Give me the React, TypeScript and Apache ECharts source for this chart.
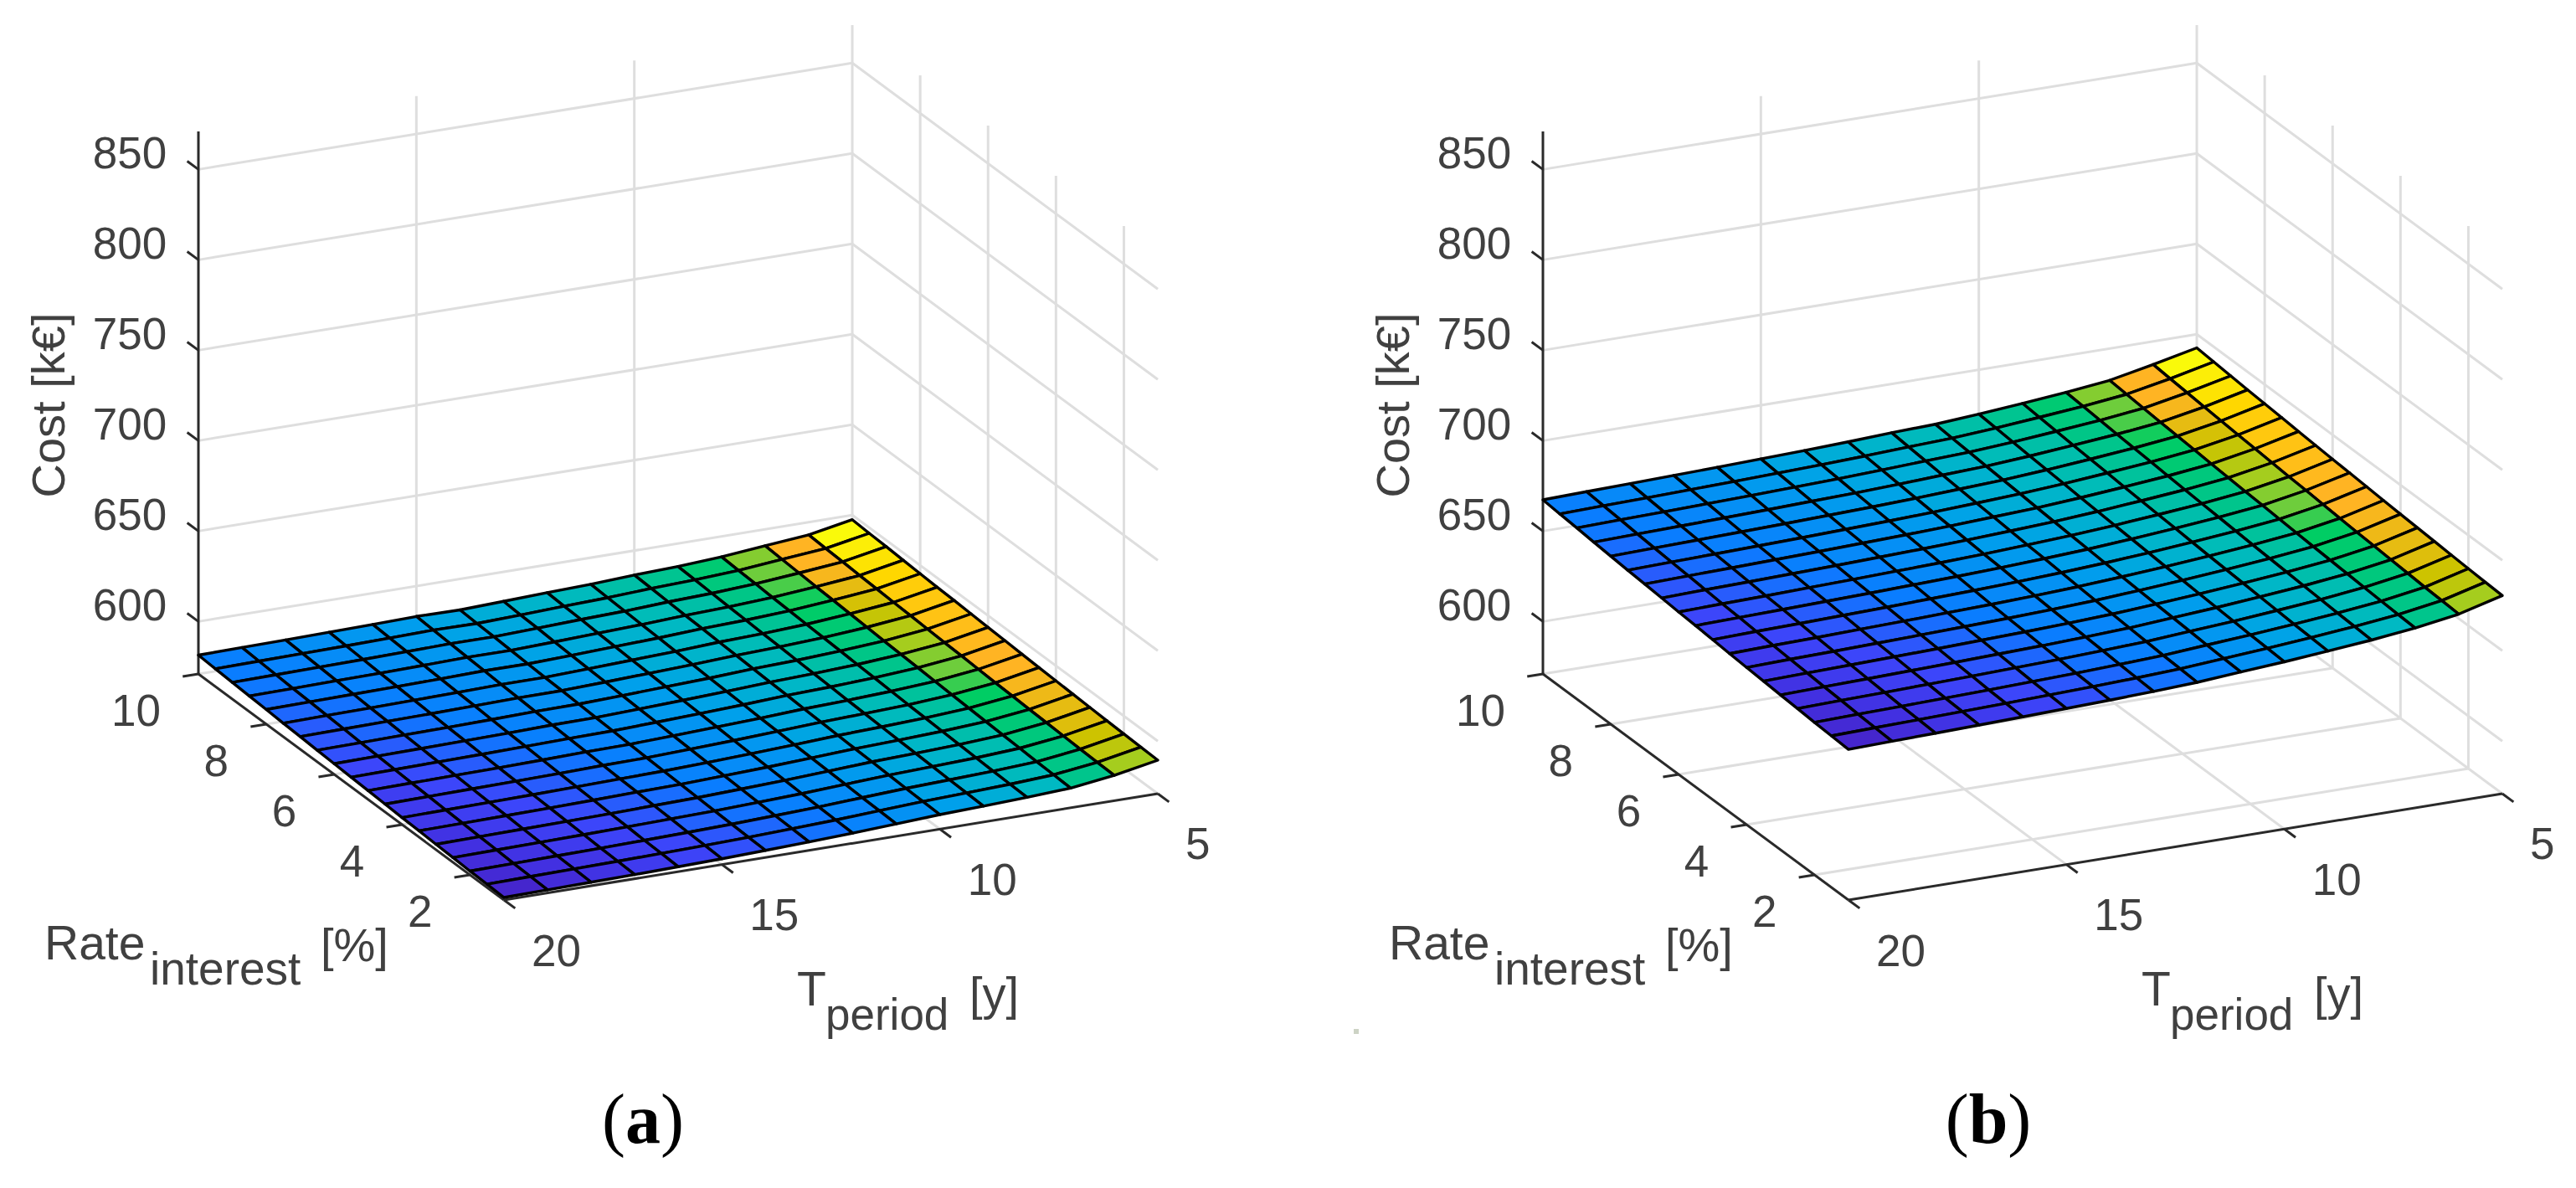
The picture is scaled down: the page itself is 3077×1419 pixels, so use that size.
import React, { useEffect, useRef } from "react";
import * as echarts from "echarts";

const PERIODS = [5, 6, 7, 8, 9, 10, 11, 12, 13, 14, 15, 16, 17, 18, 19, 20];
const RATES = [1, 1.5, 2, 2.5, 3, 3.5, 4, 4.5, 5, 5.5, 6, 6.5, 7, 7.5, 8, 8.5, 9, 9.5, 10];
const COST_TICKS = [600, 650, 700, 750, 800, 850];
const RATE_TICKS = [2, 4, 6, 8, 10];
const PERIOD_TICKS = [5, 10, 15, 20];

// Rows follow PERIODS, columns follow RATES.
const COST_A = [
  [589.5,589.8,590.1,590.5,590.9,591.3,591.7,592.1,592.6,593.1,593.5,594,594.5,594.9,595.4,595.9,596.5,596.9,597.5],
  [585,585.3,585.6,586,586.4,586.8,587.2,587.6,588.1,588.6,589,589.5,590,590.4,590.9,591.4,592,592.4,593],
  [581.9,582.3,582.6,583.1,583.5,584,584.4,584.9,585.4,585.9,586.4,586.9,587.5,588,588.6,589.1,589.7,590.3,590.9],
  [580.7,581,581.3,581.7,582.1,582.5,582.9,583.3,583.8,584.3,584.7,585.2,585.7,586.1,586.6,587.1,587.7,588.1,588.7],
  [579.8,580.1,580.4,580.8,581.2,581.5,581.9,582.3,582.7,583.2,583.6,584,584.5,584.9,585.4,585.8,586.3,586.8,587.3],
  [579,579.3,579.6,580,580.4,580.7,581.1,581.5,581.9,582.4,582.8,583.2,583.7,584.1,584.6,585,585.5,586,586.5],
  [577.8,578.1,578.4,578.8,579.2,579.5,579.9,580.3,580.7,581.2,581.6,582,582.5,582.9,583.4,583.8,584.3,584.8,585.3],
  [576.6,576.9,577.2,577.6,578,578.4,578.8,579.2,579.7,580.2,580.6,581.1,581.6,582,582.5,583,583.6,584,584.6],
  [575.7,576,576.3,576.7,577.1,577.5,577.9,578.3,578.8,579.3,579.7,580.2,580.7,581.1,581.6,582.1,582.7,583.1,583.7],
  [574.9,575.2,575.5,575.9,576.3,576.7,577.1,577.5,578,578.5,578.9,579.4,579.9,580.3,580.8,581.3,581.9,582.3,582.9],
  [574.2,574.6,574.9,575.4,575.8,576.3,576.7,577.2,577.7,578.2,578.7,579.2,579.8,580.3,580.9,581.4,582,582.6,583.2],
  [573.7,574.1,574.4,574.9,575.3,575.8,576.2,576.7,577.2,577.7,578.2,578.7,579.3,579.8,580.4,580.9,581.5,582.1,582.7],
  [573.3,573.7,574,574.5,574.9,575.4,575.8,576.3,576.8,577.3,577.8,578.3,578.9,579.4,580,580.5,581.1,581.7,582.3],
  [573,573.4,573.7,574.2,574.6,575.1,575.5,576,576.5,577,577.5,578,578.6,579.1,579.7,580.2,580.8,581.4,582],
  [572.7,573.1,573.4,573.9,574.3,574.8,575.2,575.7,576.2,576.7,577.2,577.7,578.3,578.8,579.4,579.9,580.5,581.1,581.7],
  [572.4,572.8,573.1,573.6,574,574.5,574.9,575.4,575.9,576.4,576.9,577.4,578,578.5,579.1,579.6,580.2,580.8,581.4],
];

const COST_B = [
  [680.5,681,681.5,682.1,682.7,683.3,683.9,684.5,685.2,685.9,686.5,687.2,687.9,688.7,689.4,690.1,690.9,691.7,692.5],
  [674.2,674.7,675.2,675.9,676.5,677.2,677.8,678.5,679.3,680.1,680.7,681.5,682.3,683,683.8,684.6,685.5,686.3,687.2],
  [670.4,670.9,671.4,672,672.6,673.2,673.8,674.4,675.1,675.8,676.4,677.1,677.8,678.6,679.3,680,680.8,681.6,682.4],
  [667.7,668.2,668.7,669.3,669.9,670.5,671.1,671.7,672.4,673.1,673.7,674.4,675.1,675.9,676.6,677.3,678.1,678.9,679.7],
  [665.5,666,666.5,667.1,667.7,668.3,668.9,669.5,670.2,670.9,671.5,672.2,672.9,673.7,674.4,675.1,675.9,676.7,677.5],
  [663.5,664,664.5,665.1,665.7,666.3,666.9,667.5,668.2,668.9,669.5,670.2,670.9,671.7,672.4,673.1,673.9,674.7,675.5],
  [661.8,662.3,662.8,663.4,664,664.6,665.2,665.8,666.5,667.2,667.8,668.5,669.2,670,670.7,671.4,672.2,673,673.8],
  [660,660.5,661,661.7,662.3,663,663.6,664.3,665.1,665.9,666.5,667.3,668.1,668.8,669.6,670.4,671.3,672.1,673],
  [658.9,659.4,659.9,660.6,661.2,661.9,662.5,663.2,664,664.8,665.4,666.2,667,667.7,668.5,669.3,670.2,671,671.9],
  [658,658.5,659,659.7,660.3,661,661.6,662.3,663.1,663.9,664.5,665.3,666.1,666.8,667.6,668.4,669.3,670.1,671],
  [657.3,657.8,658.3,659,659.6,660.3,660.9,661.6,662.4,663.2,663.8,664.6,665.4,666.1,666.9,667.7,668.6,669.4,670.3],
  [656.6,657.1,657.6,658.3,658.9,659.6,660.2,660.9,661.7,662.5,663.1,663.9,664.7,665.4,666.2,667,667.9,668.7,669.6],
  [656,656.5,657,657.7,658.3,659,659.6,660.3,661.1,661.9,662.5,663.3,664.1,664.8,665.6,666.4,667.3,668.1,669],
  [655.4,655.9,656.4,657.1,657.7,658.4,659,659.7,660.5,661.3,661.9,662.7,663.5,664.2,665,665.8,666.7,667.5,668.4],
  [654.9,655.4,655.9,656.6,657.2,657.9,658.5,659.2,660,660.8,661.4,662.2,663,663.7,664.5,665.3,666.2,667,667.9],
  [654.3,654.8,655.3,656,656.6,657.3,657.9,658.6,659.4,660.2,660.8,661.6,662.4,663.1,663.9,664.7,665.6,666.4,667.3],
];

// Colour level of each mesh vertex (0 to 100).
const COLOR_LEVELS = [
  [79,82,84,86,87,88,89,90,90,91,92,93,94,95,97,98,99,100,100],
  [60,61,62,63,64,66,68,71,74,76,79,81,83,85,87,89,90,90,91],
  [50,51,52,53,54,55,56,57,58,60,61,63,65,67,69,72,74,76,77],
  [45,46,47,48,49,50,51,52,53,54,55,56,57,58,60,61,63,65,66],
  [40,41,42,43,44,45,46,47,48,49,50,51,52,53,54,55,57,59,60],
  [35,36,37,38,39,41,42,43,44,45,46,47,48,49,50,52,53,55,56],
  [30,31,33,34,35,36,37,39,40,41,42,43,45,46,47,48,50,51,52],
  [26,27,29,30,31,33,34,35,36,38,39,40,41,43,44,45,46,48,49],
  [23,24,26,27,28,30,31,32,33,35,36,37,38,40,41,42,43,45,46],
  [20,21,23,24,25,27,28,29,30,32,33,34,35,37,38,39,41,42,43],
  [17,18,20,21,22,24,25,26,28,29,30,32,33,34,35,37,38,39,41],
  [14,15,17,18,19,21,22,23,25,26,27,29,30,31,33,34,35,37,38],
  [11,12,14,15,17,18,19,21,22,23,25,26,27,29,30,31,33,34,35],
  [8,10,11,13,14,15,17,18,19,21,22,24,25,26,28,29,30,32,33],
  [5,7,8,10,11,13,14,15,17,18,20,21,22,24,25,27,28,29,30],
  [0,2,4,6,7,9,10,12,14,15,17,18,20,21,23,24,26,27,28],
];

const COLOR_STOPS: [number, number[]][] = [
  [0, [72, 28, 185]], [0.1, [66, 48, 225]], [0.18, [60, 70, 250]], [0.28, [10, 125, 255]],
  [0.4, [0, 160, 235]], [0.5, [0, 185, 195]], [0.58, [0, 195, 150]], [0.68, [0, 205, 100]],
  [0.74, [110, 205, 60]], [0.79, [165, 205, 30]], [0.84, [205, 195, 0]], [0.9, [255, 180, 35]],
  [0.97, [255, 215, 0]], [1, [250, 250, 10]],
];

const Z_MIN = 571;
const Z_MAX = 871;
const T_MIN = 5;
const T_MAX = 20;
const R_MIN = 1;
const R_MAX = 10;
const FONT = '"Liberation Sans", Arial, sans-serif';
const TEXT_COLOR = "#404040";

function colorOf(t: number) {
  for (let i = 1; i < COLOR_STOPS.length; i++) {
    const [a, ca] = COLOR_STOPS[i - 1];
    const [b, cb] = COLOR_STOPS[i];
    if (t <= b) {
      const f = (t - a) / (b - a);
      const c = ca.map((v, k) => Math.round(v + (cb[k] - v) * f));
      return `rgb(${c[0]},${c[1]},${c[2]})`;
    }
  }
  return "rgb(250,250,10)";
}

function project(ox: number, T: number, R: number, z: number): [number, number] {
  const dT = T_MAX - T;
  const dR = R_MAX - R;
  return [ox + 237 + dT * 52.07 + dR * 40.55, 805 - dT * 8.47 + dR * 30 - (z - Z_MIN) * 2.16];
}

type Seg = number[];

function gridSegments(): Seg[] {
  const s: Seg[] = [];
  COST_TICKS.forEach((z) => {
    s.push([T_MAX, R_MAX, z, T_MIN, R_MAX, z]);
    s.push([T_MIN, R_MAX, z, T_MIN, R_MIN, z]);
  });
  PERIOD_TICKS.filter((t) => t !== T_MAX).forEach((t) => {
    s.push([t, R_MAX, Z_MIN, t, R_MAX, Z_MAX]);
    s.push([t, R_MAX, Z_MIN, t, R_MIN, Z_MIN]);
  });
  RATE_TICKS.filter((r) => r !== R_MAX).forEach((r) => {
    s.push([T_MIN, r, Z_MIN, T_MIN, r, Z_MAX]);
    s.push([T_MAX, r, Z_MIN, T_MIN, r, Z_MIN]);
  });
  s.push([T_MAX, R_MAX, Z_MIN, T_MIN, R_MAX, Z_MIN]);
  return s;
}

function axisSegments(): Seg[] {
  const s: Seg[] = [
    [T_MAX, R_MAX, Z_MIN, T_MAX, R_MAX, Z_MAX],
    [T_MAX, R_MAX, Z_MIN, T_MAX, R_MIN, Z_MIN],
    [T_MAX, R_MIN, Z_MIN, T_MIN, R_MIN, Z_MIN],
  ];
  COST_TICKS.forEach((z) => s.push([T_MAX, R_MAX, z, T_MAX, R_MAX + 0.33, z]));
  RATE_TICKS.forEach((r) => s.push([T_MAX, r, Z_MIN, T_MAX + 0.36, r, Z_MIN]));
  PERIOD_TICKS.forEach((t) => s.push([t, R_MIN, Z_MIN, t, R_MIN - 0.33, Z_MIN]));
  return s;
}

function lineSeries(ox: number, segs: Seg[], stroke: string, width: number) {
  return {
    type: "custom",
    coordinateSystem: "cartesian2d",
    silent: true,
    clip: false,
    data: segs.map((_, i) => [i, i]),
    renderItem: (p: any, api: any) => {
      const s = segs[p.dataIndex];
      const a = api.coord(project(ox, s[0], s[1], s[2]));
      const b = api.coord(project(ox, s[3], s[4], s[5]));
      return {
        type: "line",
        shape: { x1: a[0], y1: a[1], x2: b[0], y2: b[1] },
        style: { stroke, lineWidth: width, fill: "none" },
      };
    },
  };
}

function surfaceSeries(ox: number, cost: number[][]) {
  const cells: number[][] = [];
  for (let i = 0; i < PERIODS.length - 1; i++) {
    for (let j = RATES.length - 2; j >= 0; j--) cells.push([i, j]);
  }
  return {
    type: "custom",
    coordinateSystem: "cartesian2d",
    silent: true,
    clip: false,
    data: cells,
    renderItem: (p: any, api: any) => {
      const [i, j] = cells[p.dataIndex];
      const corners: [number, number][] = [[i, j], [i + 1, j], [i + 1, j + 1], [i, j + 1]];
      const points = corners.map(([a, b]) => api.coord(project(ox, PERIODS[a], RATES[b], cost[a][b])));
      return {
        type: "polygon",
        shape: { points },
        style: { fill: colorOf(COLOR_LEVELS[i][j] / 100), stroke: "#000", lineWidth: 3.4, lineJoin: "round" },
      };
    },
  };
}

type Lab = { text: string; x: number; y: number; size: number; align?: string; rot?: number };

function textSeries(labels: Lab[]) {
  return {
    type: "custom",
    coordinateSystem: "cartesian2d",
    silent: true,
    clip: false,
    data: labels.map((_, i) => [i, i]),
    renderItem: (p: any, api: any) => {
      const l = labels[p.dataIndex];
      const c = api.coord([l.x, l.y]);
      return {
        type: "text",
        x: c[0],
        y: c[1],
        rotation: l.rot ?? 0,
        style: {
          text: l.text,
          x: 0,
          y: 0,
          fill: TEXT_COLOR,
          font: `${l.size}px ${FONT}`,
          textAlign: l.align ?? "center",
          textVerticalAlign: "middle",
        },
      };
    },
  };
}

function panelLabels(ox: number): Lab[] {
  const labs: Lab[] = [];
  COST_TICKS.forEach((z) => {
    const [x, y] = project(ox, T_MAX, R_MAX, z);
    labs.push({ text: String(z), x: x - 82, y: y - 20, size: 53 });
  });
  RATE_TICKS.forEach((r) => {
    const [x, y] = project(ox, T_MAX, r, Z_MIN);
    labs.push({ text: String(r), x: x - 45, y: y + 43, size: 53, align: "right" });
  });
  PERIOD_TICKS.forEach((t) => {
    const [x, y] = project(ox, t, R_MIN, Z_MIN);
    labs.push({ text: String(t), x: x + 33, y: y + 60, size: 53, align: "left" });
  });
  labs.push({ text: "Cost [k€]", x: ox + 57, y: 484, size: 56, rot: Math.PI / 2 });
  labs.push({ text: "Rate", x: ox + 53, y: 1126, size: 57, align: "left" });
  labs.push({ text: "interest", x: ox + 179, y: 1157, size: 55, align: "left" });
  labs.push({ text: "[%]", x: ox + 383, y: 1128, size: 56, align: "left" });
  labs.push({ text: "T", x: ox + 952, y: 1181, size: 57, align: "left" });
  labs.push({ text: "period", x: ox + 986, y: 1211, size: 53, align: "left" });
  labs.push({ text: "[y]", x: ox + 1158, y: 1186, size: 56, align: "left" });
  return labs;
}

function captionText(x: number, letter: string) {
  return {
    type: "text",
    x,
    y: 1336,
    style: {
      text: `({b|${letter}})`,
      font: '84px "Liberation Serif", serif',
      fill: "#000",
      align: "center",
      verticalAlign: "middle",
      rich: { b: { font: 'bold 84px "Liberation Serif", serif', fill: "#000" } },
    },
  };
}

const OFFSET_A = 0;
const OFFSET_B = 1606;

export default function App() {
  const ref = useRef<HTMLDivElement>(null);
  useEffect(() => {
    document.body.style.margin = "0";
    document.body.style.overflow = "hidden";
    const chart = echarts.init(ref.current!, undefined, { renderer: "svg" });
    const series: any[] = [];
    ([[OFFSET_A, COST_A], [OFFSET_B, COST_B]] as [number, number[][]][]).forEach(([ox, cost]) => {
      series.push(lineSeries(ox, gridSegments(), "#dedede", 3));
      series.push(lineSeries(ox, axisSegments(), "#2a2a2a", 3));
      series.push(surfaceSeries(ox, cost));
      series.push(textSeries(panelLabels(ox)));
    });
    chart.setOption({
      animation: false,
      backgroundColor: "#ffffff",
      grid: { left: 0, right: 0, top: 0, bottom: 0 },
      xAxis: { type: "value", min: 0, max: 3077, show: false },
      yAxis: { type: "value", min: 0, max: 1419, inverse: true, show: false },
      series,
      graphic: [
        captionText(768, "a"),
        captionText(2375, "b"),
        { type: "rect", shape: { x: 1617, y: 1229, width: 6, height: 6 }, style: { fill: "#cdd3c5" } },
      ],
    });
    return () => chart.dispose();
  }, []);
  return <div ref={ref} style={{ position: "absolute", left: 0, top: 0, width: 3077, height: 1419 }} />;
}
